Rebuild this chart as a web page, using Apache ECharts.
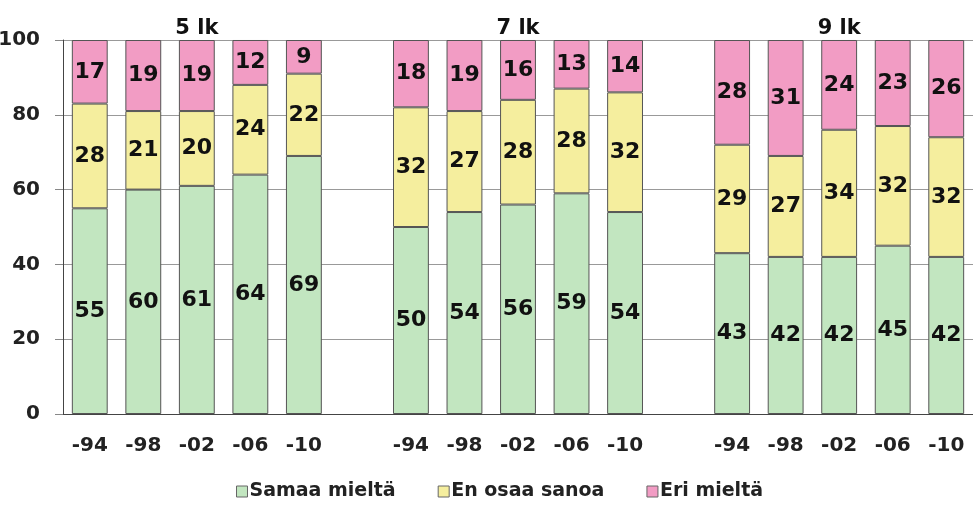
<!DOCTYPE html>
<html><head><meta charset="utf-8">
<script src="https://cdn.jsdelivr.net/npm/echarts@6/dist/echarts.min.js"></script>
<style>html,body{margin:0;padding:0;background:#fff}#c{width:973px;height:507px}</style>
</head><body><div id="c"></div>
<script>
const categories = ['-94','-98','-02','-06','-10','', '-94','-98','-02','-06','-10','', '-94','-98','-02','-06','-10'];
const groupTitles = ['','','5 lk','','','', '','','7 lk','','','', '','','9 lk','',''];
const samaa = [55,60,61,64,69,null, 50,54,56,59,54,null, 43,42,42,45,42];
const enOsaa = [28,21,20,24,22,null, 32,27,28,28,32,null, 29,27,34,32,32];
const eri = [17,19,19,12,9,null, 18,19,16,13,14,null, 28,31,24,23,26];
const yTicks = [0,20,40,60,80,100];
const seriesNames = ['Samaa mieltä','En osaa sanoa','Eri mieltä'];
const colors = ['#c2e6c0','#f5ee9e','#f29cc4'];

const font = 'DejaVu Sans';
const chart = echarts.init(document.getElementById('c'));
function mk(name, data, color){
  return {
    name, type:'bar', stack:'s', data, barCategoryGap:'33%',
    itemStyle:{color, borderColor:'#555', borderWidth:1},
    label:{show:true, position:'inside', color:'#111', fontFamily:font, fontWeight:'bold', fontSize:22},
    emphasis:{disabled:true}
  };
}
chart.setOption({
  animation:false,
  textStyle:{fontFamily:font},
  grid:{left:63, right:0, top:40, bottom:93, containLabel:false, outerBoundsMode:'none'},
  legend:{
    bottom:1, left:231, itemWidth:11, itemHeight:11, itemGap:42,
    icon:'rect',
    itemStyle:{borderColor:'#666', borderWidth:1},
    textStyle:{fontFamily:font, fontWeight:'bold', fontSize:19, color:'#222', padding:[0,0,0,-3]},
    data:seriesNames
  },
  xAxis:[{
    type:'category', data:categories, position:'bottom',
    axisLine:{lineStyle:{color:'#444', width:1}},
    axisTick:{show:false},
    axisLabel:{interval:0, color:'#222', fontFamily:font, fontWeight:'bold', fontSize:20, margin:22}
  },{
    type:'category', data:groupTitles, position:'top',
    axisLine:{show:false}, axisTick:{show:false},
    axisLabel:{interval:0, color:'#111', fontFamily:font, fontWeight:'bold', fontSize:21, margin:1}
  }],
  yAxis:{
    type:'value', min:0, max:100, interval:20,
    axisLine:{show:true, lineStyle:{color:'#444'}},
    axisTick:{show:true, inside:false, length:8, lineStyle:{color:'#888'}},
    splitLine:{lineStyle:{color:'#999', width:1}},
    axisLabel:{color:'#222', fontFamily:font, fontWeight:'bold', fontSize:20, margin:23,
      formatter: v => yTicks.includes(v) ? String(v) : ''}
  },
  series:[mk(seriesNames[0], samaa, colors[0]), mk(seriesNames[1], enOsaa, colors[1]), mk(seriesNames[2], eri, colors[2])]
});
</script></body></html>
